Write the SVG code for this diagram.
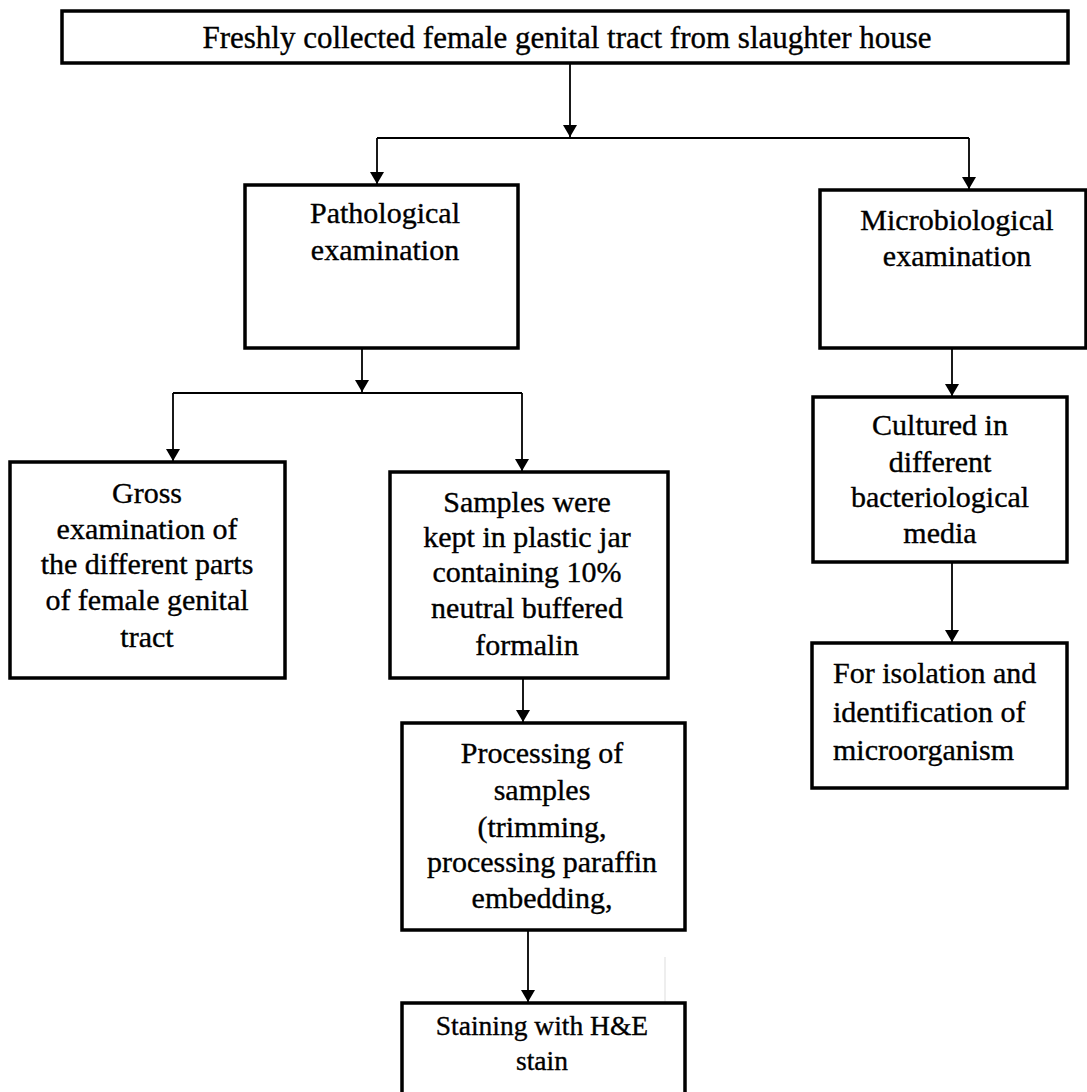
<svg xmlns="http://www.w3.org/2000/svg" width="1087" height="1092" viewBox="0 0 1087 1092">
<style>
.box{fill:#fff;stroke:#000;stroke-width:3.5}
.t{font-family:"Liberation Serif",serif;font-size:30px;fill:#000;stroke:#000;stroke-width:0.35;text-anchor:middle}
.l{text-anchor:start}
.c{fill:none;stroke:#000;stroke-width:1.8}
</style>
<defs>
<marker id="ah" viewBox="0 0 12 14" refX="12" refY="7" markerWidth="12" markerHeight="14" markerUnits="userSpaceOnUse" orient="auto">
<path d="M0,0 L12,7 L0,14 Z" fill="#000"/>
</marker>
</defs>
<rect width="1087" height="1092" fill="#fff"/>
<g id="connectors">
<path class="c" d="M570,64 V137" marker-end="url(#ah)"/>
<path class="c" d="M377,138 H969"/>
<path class="c" d="M377,138 V184" marker-end="url(#ah)"/>
<path class="c" d="M969,138 V189" marker-end="url(#ah)"/>
<path class="c" d="M362,349 V392" marker-end="url(#ah)"/>
<path class="c" d="M173,393 H522"/>
<path class="c" d="M173,393 V461" marker-end="url(#ah)"/>
<path class="c" d="M522,393 V471" marker-end="url(#ah)"/>
<path class="c" d="M523,679 V722" marker-end="url(#ah)"/>
<path class="c" d="M528,931 V1002" marker-end="url(#ah)"/>
<path class="c" d="M952,349 V396" marker-end="url(#ah)"/>
<path class="c" d="M952,563 V642" marker-end="url(#ah)"/>
<path d="M665,957 V1060" stroke="#ddd" stroke-width="1" fill="none"/>
</g>
<g id="n-top">
<rect class="box" x="62" y="11" width="1006" height="52"/>
<text class="t" x="567" y="48" style="font-size:31px">Freshly collected female genital tract from slaughter house</text>
</g>
<g id="n-patho">
<rect class="box" x="245" y="185" width="273" height="163"/>
<text class="t" x="385" y="223">Pathological</text>
<text class="t" x="385" y="260">examination</text>
</g>
<g id="n-micro">
<rect class="box" x="820" y="190" width="266" height="158"/>
<text class="t" x="957" y="230">Microbiological</text>
<text class="t" x="957" y="266">examination</text>
</g>
<g id="n-gross">
<rect class="box" x="10" y="462" width="275" height="216"/>
<text class="t" x="147" y="503">Gross</text>
<text class="t" x="147" y="539">examination of</text>
<text class="t" x="147" y="574">the different parts</text>
<text class="t" x="147" y="610">of female genital</text>
<text class="t" x="147" y="647">tract</text>
</g>
<g id="n-samples">
<rect class="box" x="390" y="472" width="278" height="206"/>
<text class="t" x="527" y="512">Samples were</text>
<text class="t" x="527" y="547">kept in plastic jar</text>
<text class="t" x="527" y="582">containing 10%</text>
<text class="t" x="527" y="618">neutral buffered</text>
<text class="t" x="527" y="655">formalin</text>
</g>
<g id="n-processing">
<rect class="box" x="402" y="723" width="283" height="207"/>
<text class="t" x="542" y="763">Processing of</text>
<text class="t" x="542" y="800">samples</text>
<text class="t" x="542" y="837">(trimming,</text>
<text class="t" x="542" y="872">processing paraffin</text>
<text class="t" x="542" y="908">embedding,</text>
</g>
<g id="n-staining">
<rect class="box" x="402" y="1003" width="283" height="100"/>
<text class="t" x="542" y="1035" style="font-size:27.5px">Staining with H&amp;E</text>
<text class="t" x="542" y="1070" style="font-size:27.5px">stain</text>
</g>
<g id="n-cultured">
<rect class="box" x="813" y="397" width="254" height="165"/>
<text class="t" x="940" y="435">Cultured in</text>
<text class="t" x="940" y="472">different</text>
<text class="t" x="940" y="507">bacteriological</text>
<text class="t" x="940" y="543">media</text>
</g>
<g id="n-isolation">
<rect class="box" x="812" y="643" width="255" height="145"/>
<text class="t l" x="833" y="683">For isolation and</text>
<text class="t l" x="833" y="722">identification of</text>
<text class="t l" x="833" y="760">microorganism</text>
</g>
</svg>
